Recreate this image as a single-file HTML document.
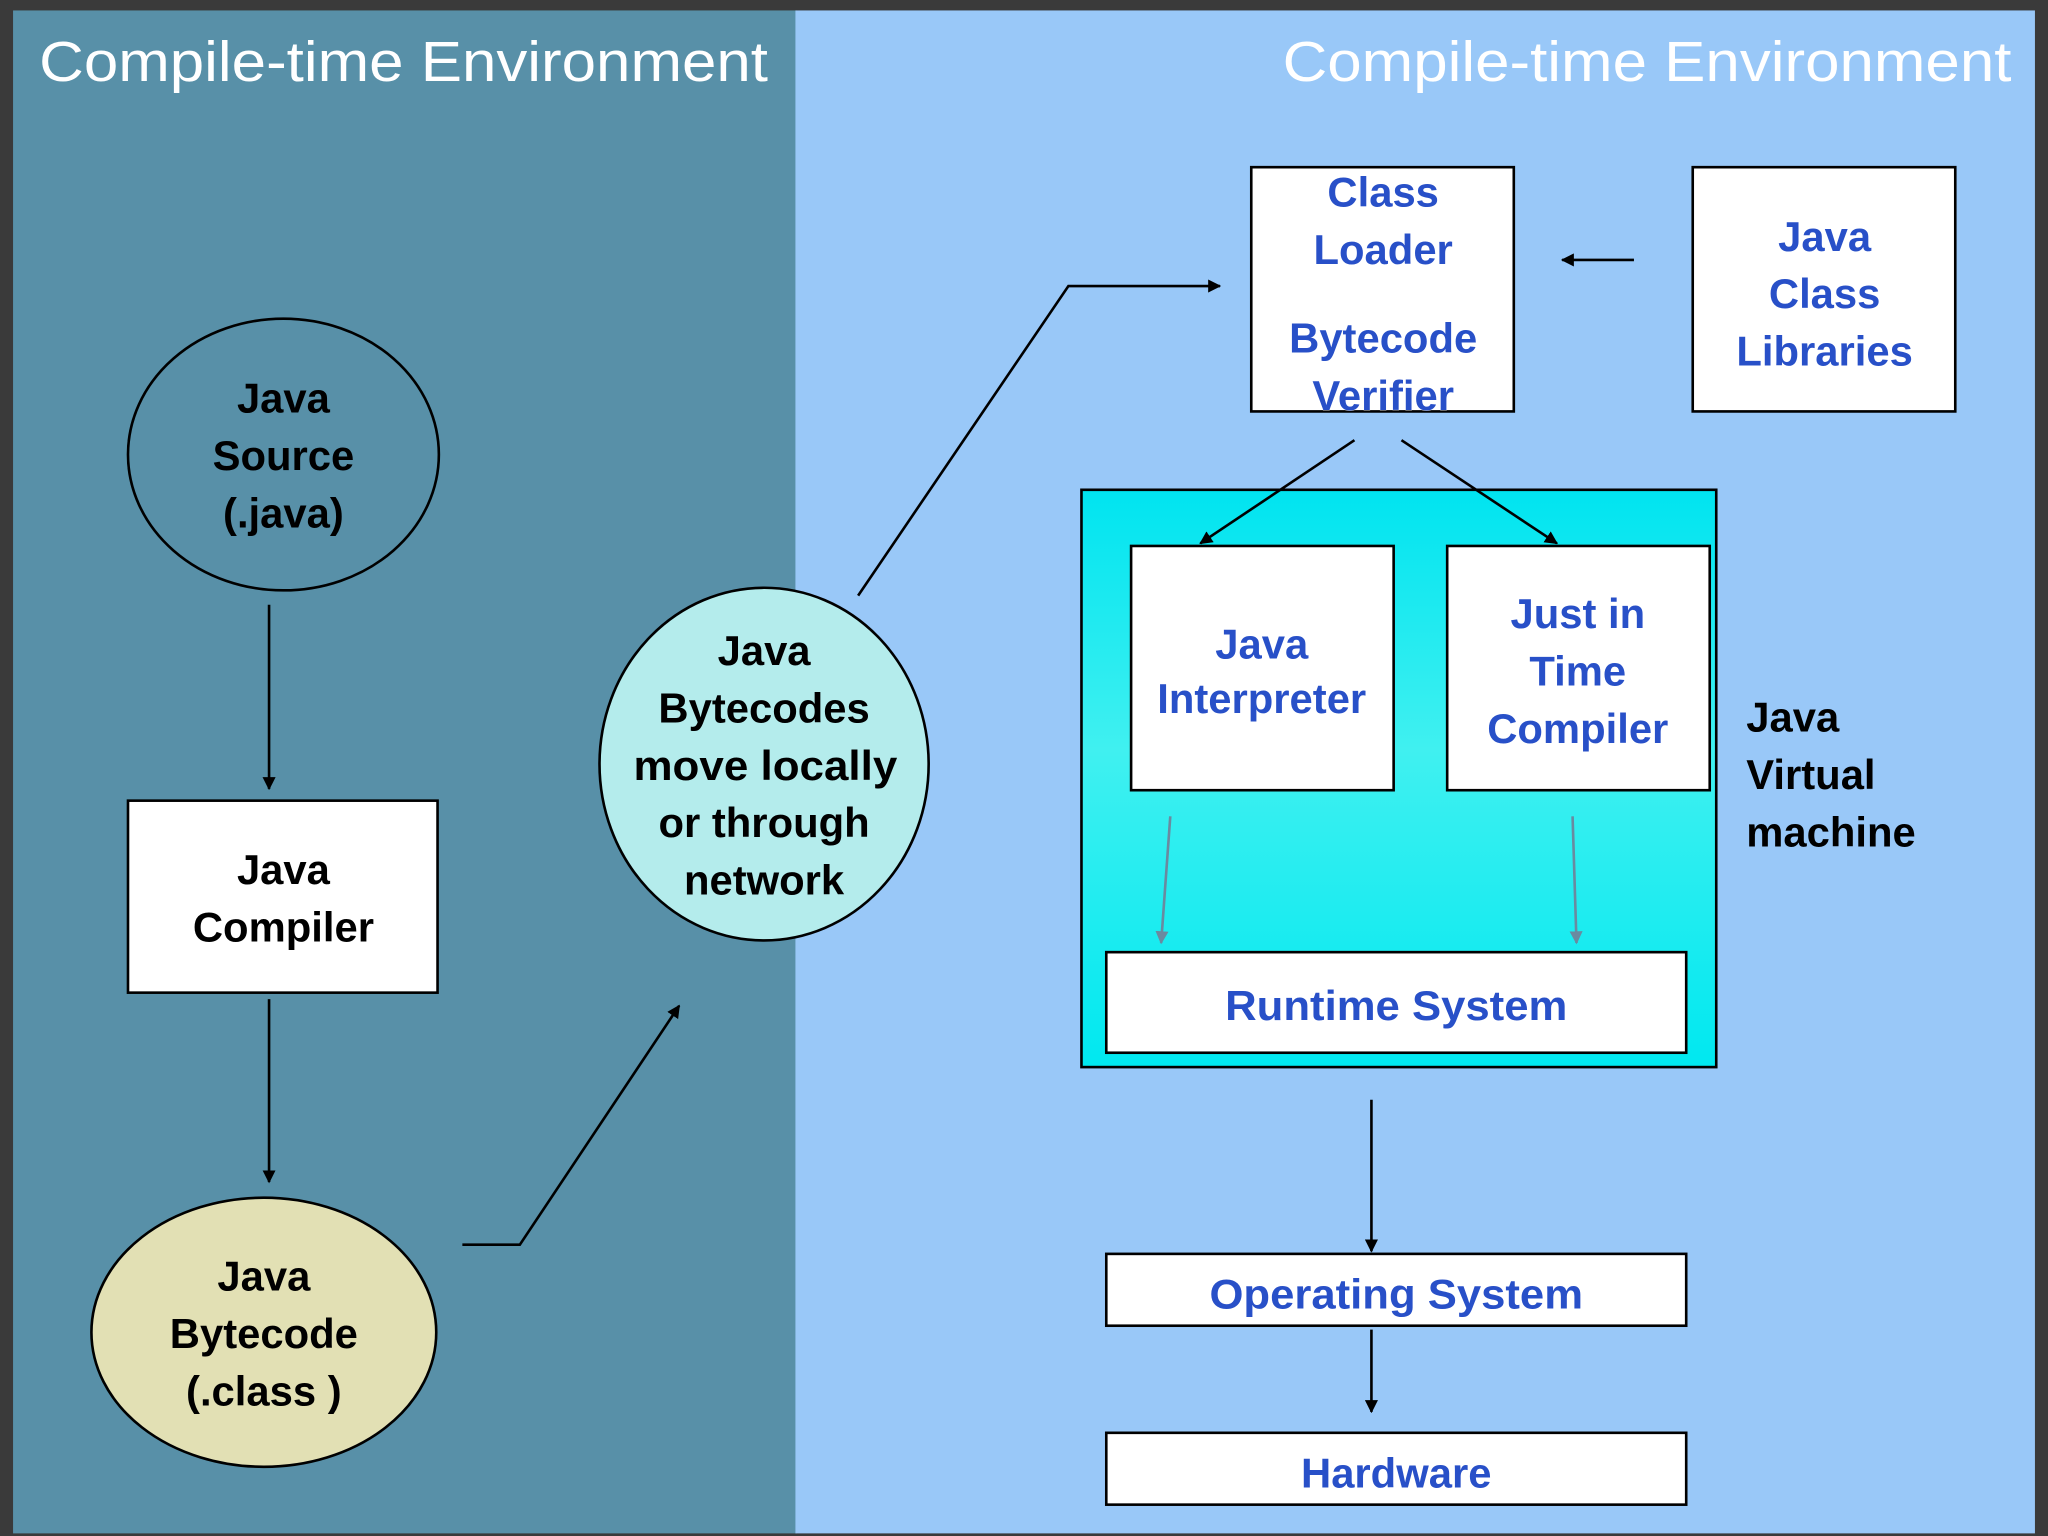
<!DOCTYPE html>
<html><head><meta charset="utf-8"><style>
html,body{margin:0;padding:0;background:#3a3a3a;}
svg{display:block;}
text{font-family:"Liberation Sans",Arial,sans-serif;font-weight:bold;}
</style></head><body>
<svg width="2048" height="1536" viewBox="0 0 1568 1176" xmlns="http://www.w3.org/2000/svg">
<defs>
<marker id="a" markerWidth="10" markerHeight="10" refX="9" refY="5" orient="auto" markerUnits="userSpaceOnUse"><path d="M0,0 L10,5 L0,10 z" fill="#000"/></marker>
<marker id="g" markerWidth="10" markerHeight="10" refX="9" refY="5" orient="auto" markerUnits="userSpaceOnUse"><path d="M0,0 L10,5 L0,10 z" fill="#6a8aa0"/></marker>
<linearGradient id="cy" x1="0" y1="0" x2="0" y2="1"><stop offset="0" stop-color="#00e4f0"/><stop offset="0.45" stop-color="#40f0f0"/><stop offset="1" stop-color="#00e8f0"/></linearGradient>
</defs>
<rect x="0" y="0" width="1568" height="1176" fill="#3a3a3a"/>
<rect x="10" y="8" width="600" height="1166" fill="#5890a8"/>
<rect x="609" y="8" width="949" height="1166" fill="#99c8f8"/>
<text x="30" y="62" font-size="43" fill="#fff" textLength="558" lengthAdjust="spacingAndGlyphs" style="font-weight:normal">Compile-time Environment</text>
<text x="982" y="62" font-size="43" fill="#fff" textLength="558" lengthAdjust="spacingAndGlyphs" style="font-weight:normal">Compile-time Environment</text>

<g font-size="32" text-anchor="middle" fill="#000">
<ellipse cx="217" cy="348" rx="119" ry="104" fill="#5890a8" stroke="#000" stroke-width="2"/>
<text x="217" y="316">Java</text><text x="217" y="360">Source</text><text x="217" y="404">(.java)</text>
<rect x="98" y="613" width="237" height="147" fill="#fff" stroke="#000" stroke-width="2"/>
<text x="217" y="677">Java</text><text x="217" y="721">Compiler</text>
<ellipse cx="202" cy="1020" rx="132" ry="103" fill="#e2e0b4" stroke="#000" stroke-width="2"/>
<text x="202" y="988">Java</text><text x="202" y="1032">Bytecode</text><text x="202" y="1076">(.class )</text>
<ellipse cx="585" cy="585" rx="126" ry="135" fill="#b4ecec" stroke="#000" stroke-width="2"/>
<text x="585" y="509">Java</text><text x="585" y="553">Bytecodes</text><text x="586" y="597" textLength="202" lengthAdjust="spacingAndGlyphs">move locally</text><text x="585" y="641">or through</text><text x="585" y="685">network</text>
<text x="1337" y="560" text-anchor="start">Java</text><text x="1337" y="604" text-anchor="start">Virtual</text><text x="1337" y="648" text-anchor="start">machine</text>
</g>

<rect x="828" y="375" width="486" height="442" fill="url(#cy)" stroke="#000" stroke-width="2"/>

<g stroke="#000" stroke-width="2" fill="none">
<line x1="206" y1="463" x2="206" y2="604" marker-end="url(#a)"/>
<line x1="206" y1="765" x2="206" y2="905" marker-end="url(#a)"/>
<polyline points="354,953 398,953 520,770" marker-end="url(#a)"/>
<polyline points="657,456 818,219 934,219" marker-end="url(#a)"/>
<line x1="1251" y1="199" x2="1196" y2="199" marker-end="url(#a)"/>
<line x1="1037" y1="337" x2="919" y2="416" marker-end="url(#a)"/>
<line x1="1073" y1="337" x2="1192" y2="416" marker-end="url(#a)"/>
<line x1="1050" y1="842" x2="1050" y2="958" marker-end="url(#a)"/>
<line x1="1050" y1="1018" x2="1050" y2="1081" marker-end="url(#a)"/>
</g>
<g stroke="#6a8aa0" stroke-width="2">
<line x1="896" y1="625" x2="889" y2="722" marker-end="url(#g)"/>
<line x1="1204" y1="625" x2="1207" y2="722" marker-end="url(#g)"/>
</g>

<g fill="#fff" stroke="#000" stroke-width="2">
<rect x="958" y="128" width="201" height="187"/>
<rect x="1296" y="128" width="201" height="187"/>
<rect x="866" y="418" width="201" height="187"/>
<rect x="1108" y="418" width="201" height="187"/>
<rect x="847" y="729" width="444" height="77"/>
<rect x="847" y="960" width="444" height="55"/>
<rect x="847" y="1097" width="444" height="55"/>
</g>
<g font-size="32" text-anchor="middle" fill="#2850c8" stroke="#fff" stroke-width="0.6" paint-order="stroke">
<text x="1059" y="158">Class</text><text x="1059" y="202">Loader</text><text x="1059" y="270">Bytecode</text><text x="1059" y="314">Verifier</text>
<text x="1397" y="192">Java</text><text x="1397" y="236">Class</text><text x="1397" y="280">Libraries</text>
<text x="966" y="504">Java</text><text x="966" y="546" textLength="160" lengthAdjust="spacingAndGlyphs">Interpreter</text>
<text x="1208" y="481">Just in</text><text x="1208" y="525">Time</text><text x="1208" y="569">Compiler</text>
<text x="1069" y="781" textLength="262" lengthAdjust="spacingAndGlyphs">Runtime System</text>
<text x="1069" y="1002" textLength="286" lengthAdjust="spacingAndGlyphs">Operating System</text>
<text x="1069" y="1139">Hardware</text>
</g>
</svg>
</body></html>
